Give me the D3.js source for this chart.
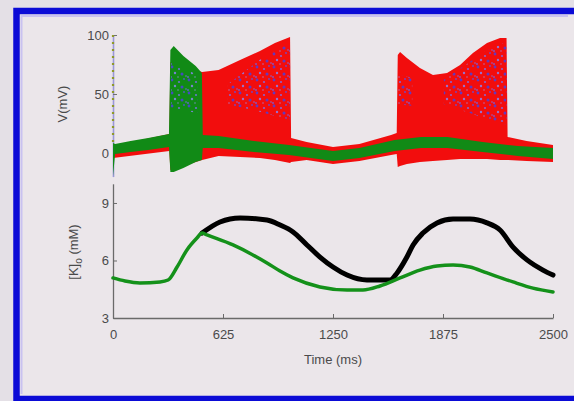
<!DOCTYPE html>
<html>
<head>
<meta charset="utf-8">
<script src="https://cdn.jsdelivr.net/npm/d3@7"></script>
<style>
  html, body { margin: 0; padding: 0; background: #e4e0e6; overflow: hidden; width: 574px; height: 401px; }
  svg { display: block; }
  text { font-family: "Liberation Sans", Arial, sans-serif; fill: #4a4a4a; }
</style>
</head>
<body>
<svg id="chart" width="574" height="401" viewBox="0 0 574 401"></svg>
<script>
// ---- Membrane potential envelopes (ms, mV) ----
// Red trace: upper / lower envelope of the spiking voltage
const redTime = [0, 320, 326, 506, 600, 722, 835, 920, 1006, 1012, 1100, 1250, 1400, 1580, 1612, 1618, 1631, 1670, 1744, 1818, 1898, 1972, 2045, 2125, 2199, 2236, 2242, 2350, 2500];
const redHigh = [5.9, 16.1, 77.1, 68.6, 70.3, 78.8, 86.4, 93.2, 98.3, 12.7, 9.3, 5.1, 7.6, 15.3, 16.9, 83.1, 85.6, 80.5, 72.0, 66.1, 67.8, 74.6, 84.7, 93.2, 97.5, 97.5, 13.6, 10.2, 6.8];
const redLow  = [-4.2, 1.7, -14.4, -5.9, -2.5, -3.4, -4.2, -5.9, -8.5, -7.6, -5.9, -9.3, -6.8, -1.7, -0.8, -11.9, -11.0, -9.3, -7.6, -6.8, -5.9, -5.1, -5.1, -5.1, -5.9, -5.9, -5.9, -6.8, -7.6];

// Green trace: upper / lower envelope
const greenTime = [0, 12, 100, 200, 318, 326, 345, 400, 470, 505, 510, 600, 800, 1000, 1250, 1400, 1600, 1750, 1900, 2100, 2300, 2500];
const greenHigh = [8.5, 7.6, 10.2, 12.7, 16.1, 87.3, 90.7, 82.2, 73.7, 67.8, 15.3, 14.4, 10.2, 6.8, 1.7, 4.2, 11.0, 13.6, 13.6, 9.3, 5.9, 4.2];
const greenLow  = [-19.5, -0.8, 0.8, 2.5, 5.1, -16.1, -16.1, -12.7, -7.6, -5.9, 4.2, 4.2, 0.8, -1.7, -6.8, -4.2, 1.7, 4.2, 4.2, 0.8, -2.5, -5.1];

// Blue trace: sparse spikes shown as speckle bands [time, high, low]
const blueBursts = [
  [[330, 77, 38], [400, 72, 36], [480, 66, 34]],
  [[650, 58, 41], [835, 79, 35], [950, 89, 30], [1006, 94, 28]],
  [[1620, 66, 41], [1700, 64, 40]],
  [[1880, 62, 41], [2045, 79, 33], [2125, 87, 28], [2236, 94, 24]]
];

// Initial transient at t = 0
const initialSpike = [[0, 100], [0, 8]];

// ---- Extracellular potassium (ms, mM) ----
const kGreenTime = [0, 68, 153, 267, 313, 364, 420, 477, 506, 534, 682, 875, 949, 1023, 1176, 1330, 1420, 1517, 1631, 1744, 1841, 1932, 2028, 2125, 2273, 2386, 2500];
const kGreen     = [5.09, 4.93, 4.83, 4.88, 4.98, 5.66, 6.55, 7.17, 7.43, 7.33, 6.81, 5.87, 5.45, 5.09, 4.62, 4.46, 4.46, 4.67, 5.09, 5.5, 5.71, 5.76, 5.66, 5.35, 4.88, 4.56, 4.36];
const kBlackTime = [506, 608, 722, 875, 949, 1023, 1102, 1176, 1250, 1330, 1443, 1574, 1614, 1670, 1705, 1761, 1841, 1932, 2028, 2125, 2199, 2273, 2352, 2443, 2500];
const kBlack     = [7.43, 8.01, 8.22, 8.11, 7.85, 7.49, 6.81, 6.18, 5.66, 5.24, 4.98, 4.98, 5.35, 6.18, 6.81, 7.43, 7.96, 8.16, 8.16, 7.96, 7.59, 6.70, 6.03, 5.5, 5.24];

// ---- Axis ticks ----
const timeTicks = [0, 625, 1250, 1875, 2500];
const vTicks = [0, 50, 100];
const kTicks = [3, 6, 9];

const svg = d3.select("#chart");

// Panel background and an open frame (top, left, bottom edges)
svg.append("rect").attr("x", 16).attr("y", 11).attr("width", 558).attr("height", 388).attr("fill", "#ebe6ea");
const frame = (pts, color, w) => svg.append("path").attr("d", d3.line()(pts))
  .attr("fill", "none").attr("stroke", color).attr("stroke-width", w);
frame([[574, 16], [21.5, 16], [21.5, 394]], "#c9c2f0", 2);
frame([[574, 11], [16.5, 11], [16.5, 399], [574, 399]], "#0b0bd6", 6.5);

// Speckle pattern for the blue trace
const defs = svg.append("defs");
const pat = defs.append("pattern").attr("id", "speckle").attr("patternUnits", "userSpaceOnUse")
  .attr("width", 17).attr("height", 13);
[[2, 2, 1.4, "#4b3fe0"], [9, 4, 1.1, "#7a70ee"], [14, 1, 0.9, "#5a4fe6"], [5, 8, 1.2, "#8a82f0"],
 [12, 9, 1.5, "#4a40dc"], [16, 11, 0.8, "#7a70ee"], [1, 12, 0.9, "#6c62ea"], [8, 12, 0.7, "#9890f2"]]
  .forEach(([cx, cy, r, c]) =>
    pat.append("circle").attr("cx", cx).attr("cy", cy).attr("r", r).attr("fill", c).attr("opacity", 0.85));

const x = d3.scaleLinear().domain([0, 2500]).range([113, 553]);
const yV = d3.scaleLinear().domain([-20, 100]).range([176.6, 35]);
const yK = d3.scaleLinear().domain([3, 10]).range([318, 183.8]);
const fmt = d3.format("d");

// ---- Top panel: voltage ----
const vPanel = svg.append("g");

const band = (ts, hi, lo) => ts.map((t, i) => ({ t, hi: hi[i], lo: lo[i] }));
const areaV = d3.area().x(d => x(d.t)).y0(d => yV(d.lo)).y1(d => yV(d.hi));

const yAxisV = d3.axisLeft(yV).tickValues(vTicks).tickFormat(fmt).tickSizeInner(-4).tickSizeOuter(0).tickPadding(4);
const gV = vPanel.append("g").attr("transform", "translate(113,0)").call(yAxisV);
gV.select(".domain").attr("stroke", "#9a98d8").attr("stroke-width", 1.6);
gV.selectAll(".tick line").attr("stroke", "#707070");
gV.selectAll(".tick text").attr("font-size", 13).attr("fill", "#4a4a4a");

vPanel.append("path").datum(band(redTime, redHigh, redLow)).attr("d", areaV).attr("fill", "#f20d0d");
vPanel.append("path").datum(band(greenTime, greenHigh, greenLow)).attr("d", areaV).attr("fill", "#118a16");

blueBursts.forEach(b => {
  vPanel.append("path").datum(b.map(([t, hi, lo]) => ({ t, hi, lo })))
    .attr("d", areaV).attr("fill", "url(#speckle)");
});

const lineV = d3.line().x(d => x(d[0])).y(d => yV(d[1]));
vPanel.append("path").datum(initialSpike).attr("d", lineV)
  .attr("stroke", "#8f9a2a").attr("stroke-width", 2.2).attr("stroke-dasharray", "2,5").attr("fill", "none");

vPanel.append("text").attr("transform", "translate(62,104) rotate(-90)")
  .attr("text-anchor", "middle").attr("dy", "0.35em").attr("font-size", 13).text("V(mV)");

// ---- Bottom panel: [K]o ----
const kPanel = svg.append("g");

const yAxisK = d3.axisLeft(yK).tickValues(kTicks).tickFormat(fmt).tickSizeInner(-4).tickSizeOuter(0).tickPadding(4);
const gK = kPanel.append("g").attr("transform", "translate(113,0)").call(yAxisK);
const xAxis = d3.axisBottom(x).tickValues(timeTicks).tickFormat(fmt).tickSizeInner(-4).tickSizeOuter(0).tickPadding(12);
const gX = kPanel.append("g").attr("transform", "translate(0,318)").call(xAxis);
[gK, gX].forEach(g => {
  g.select(".domain").attr("stroke", "#6a6a6a").attr("stroke-width", 1.3);
  g.selectAll(".tick line").attr("stroke", "#6a6a6a");
  g.selectAll(".tick text").attr("font-size", 13).attr("fill", "#4a4a4a");
});

const lineK = d3.line().x(d => x(d[0])).y(d => yK(d[1])).curve(d3.curveMonotoneX);
kPanel.append("path").datum(kBlackTime.map((t, i) => [t, kBlack[i]])).attr("d", lineK)
  .attr("fill", "none").attr("stroke", "#000").attr("stroke-width", 5).attr("stroke-linecap", "round");
kPanel.append("path").datum(kGreenTime.map((t, i) => [t, kGreen[i]])).attr("d", lineK)
  .attr("fill", "none").attr("stroke", "#14911a").attr("stroke-width", 3.5).attr("stroke-linecap", "round");

const kLabel = kPanel.append("text").attr("transform", "translate(73,252) rotate(-90)")
  .attr("text-anchor", "middle").attr("dy", "0.35em").attr("font-size", 13);
kLabel.append("tspan").text("[K]");
kLabel.append("tspan").attr("font-size", 10).attr("dy", "0.45em").text("o");
kLabel.append("tspan").attr("dy", "-0.35em").text(" (mM)");

kPanel.append("text").attr("x", 333).attr("y", 364).attr("text-anchor", "middle")
  .attr("font-size", 13).text("Time (ms)");

// Keep the right margin of the panel plain
svg.append("rect").attr("x", 568).attr("y", 15).attr("width", 6).attr("height", 380).attr("fill", "#ebe6ea");
</script>
</body>
</html>
